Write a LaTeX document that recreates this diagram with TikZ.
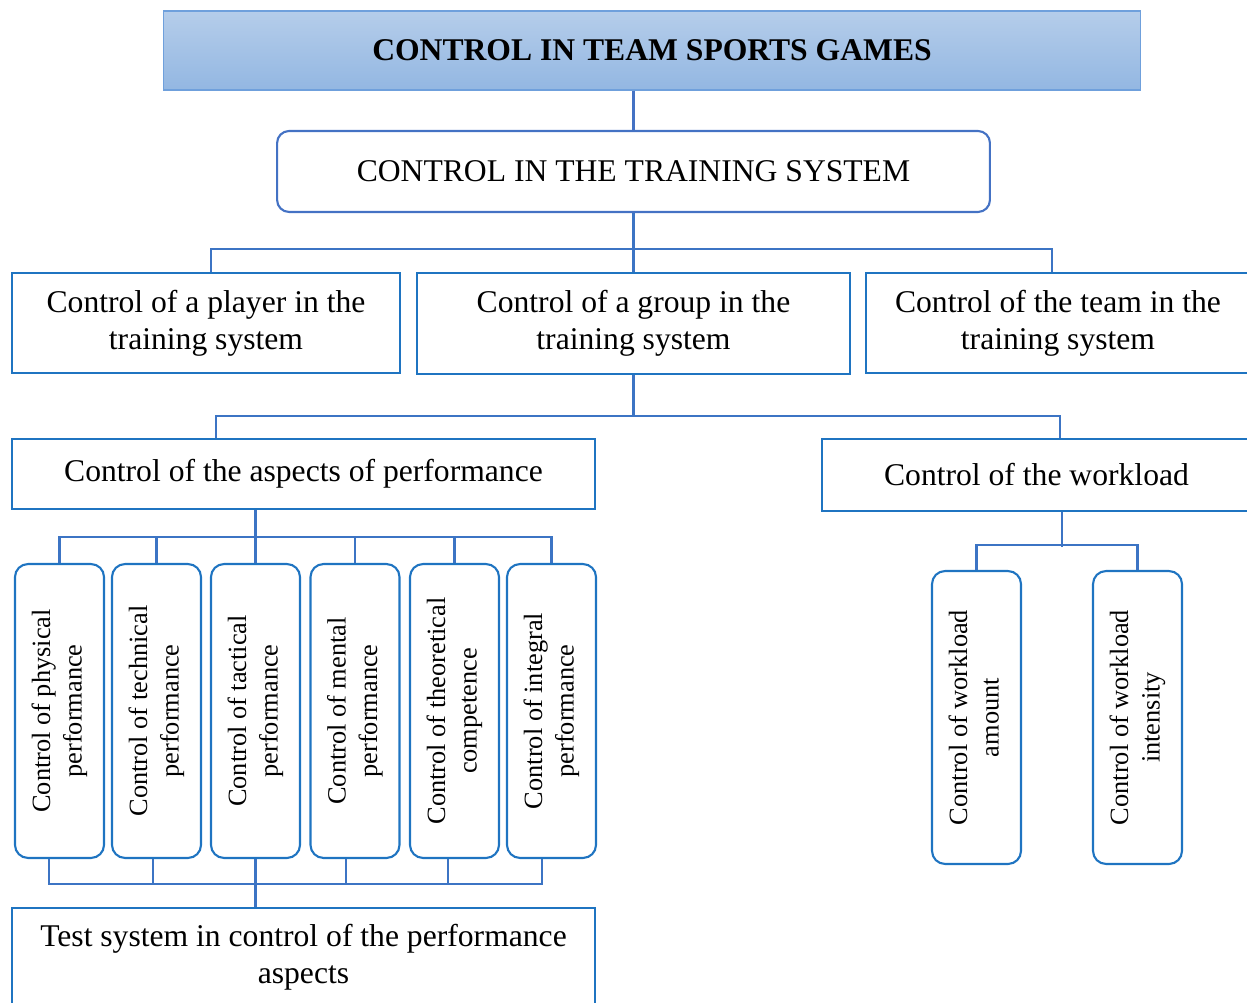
\documentclass[tikz,border=0pt]{standalone}
\usepackage{fontspec}
\setmainfont{Liberation Serif}
\usepackage{graphicx}
\usepackage{tikz}
\usetikzlibrary{calc}
\usetikzlibrary{positioning}
\definecolor{boxblue}{HTML}{1F74C1}
\definecolor{linkblue}{HTML}{3C74C4}
\definecolor{trainblue}{HTML}{4472C4}
\definecolor{titletop}{HTML}{B5CDEA}
\definecolor{titlebot}{HTML}{93B7E2}
\definecolor{titleline}{HTML}{6FA0DC}
\tikzset{box/.style = {rectangle, draw = boxblue, line width = 1.2pt, inner sep = 0, align = center, font = \fontsize{18}{21}\selectfont}}
\tikzset{vbox/.style = {box, rounded corners = 0.26cm, minimum width = 1.78cm, minimum height = 5.88cm, font = \fontsize{15}{18}\selectfont}}
\tikzset{link/.style = {-, draw = linkblue, line width = 1.2pt}}
\newcommand{\vlabel}[2]{\rotatebox{90}{\begin{tabular}{@{}c@{}}#1\\#2\end{tabular}}}

\begin{document}
\begin{tikzpicture}[x = 0.02cm, y = -0.02cm]
\useasboundingbox (0, 0) rectangle (1247, 1003);
\node [box, draw = titleline, line width = 0.6pt, top color = titletop, bottom color = titlebot, minimum width = 19.56cm, minimum height = 1.58cm, font = \fontsize{18}{21}\selectfont\bfseries] (title) at (652, 50.5) {CONTROL IN TEAM SPORTS GAMES};
\node [box, draw = trainblue, rounded corners = 0.24cm, minimum width = 14.26cm, minimum height = 1.62cm] (train) at (633.5, 171.5) {CONTROL IN THE TRAINING SYSTEM};

\node [box, minimum width = 7.76cm, minimum height = 2cm] (player) at (206, 323) {Control of a player in the\\training system};
\node [box, minimum width = 8.66cm, minimum height = 2.02cm] (group) at (633.5, 323.5) {Control of a group in the\\training system};
\node [box, minimum width = 7.68cm, minimum height = 2cm] (team) at (1058, 323) {Control of the team in the\\training system};

\node [box, minimum width = 11.66cm, minimum height = 1.4cm] (aspects) at (303.5, 474) {Control of the aspects of performance};
\node [box, minimum width = 8.58cm, minimum height = 1.44cm] (work) at (1036.5, 475) {Control of the workload};

\node [vbox] (phys) at (59.5, 711) {\vlabel{Control of physical}{performance}};
\node [vbox] (tech) at (156.5, 711) {\vlabel{Control of technical}{performance}};
\node [vbox] (tact) at (255.5, 711) {\vlabel{Control of tactical}{performance}};
\node [vbox] (ment) at (355, 711) {\vlabel{Control of mental}{performance}};
\node [vbox] (theo) at (454.5, 711) {\vlabel{Control of theoretical}{competence}};
\node [vbox] (integ) at (551.5, 711) {\vlabel{Control of integral}{performance}};

\node [box, minimum width = 11.66cm, minimum height = 1.96cm] (test) at (303.5, 957) {Test system in control of the performance\\aspects};

\node [vbox, minimum height = 5.86cm] (amount) at (976.5, 717.5) {\vlabel{Control of workload}{amount}};
\node [vbox, minimum height = 5.86cm] (inten) at (1137.5, 717.5) {\vlabel{Control of workload}{intensity}};

% connectors
\draw [link, draw = trainblue] (title.south -| train.north) -- (train.north);
\draw [link] (train.south) -- (group.north);
\draw [link] ([xshift = 0.1cm]player.north) -- ++(0, -23) -| ([xshift = -0.12cm]team.north);
\draw [link] (group.south) -- ++(0, 41) coordinate (gbar);
\draw [link] ([xshift = -1.75cm]aspects.north) |- (gbar) -| ([xshift = 0.47cm]work.north);

\draw [link] (aspects.south -| tact.north) -- (tact.north);
\draw [link] (phys.north) -- ++(0, -26) -| (integ.north);
\foreach \n in {tech, ment, theo}
  \draw [link] (\n.north) -- ++(0, -26);

\draw [link] (tact.south) -- (tact.south |- test.north);
\draw [link] ([xshift = -0.21cm]phys.south) -- ++(0, 25) -| ([xshift = -0.19cm]integ.south);
\foreach \n/\dx in {tech/-0.07, ment/-0.18, theo/-0.13}
  \draw [link] ([xshift = \dx cm]\n.south) -- ++(0, 25);

\draw [link] ([xshift = 0.51cm]work.south) -- ++(0, 35);
\draw [link] (amount.north) -- ++(0, -25) -| (inten.north);
\end{tikzpicture}
\end{document}
